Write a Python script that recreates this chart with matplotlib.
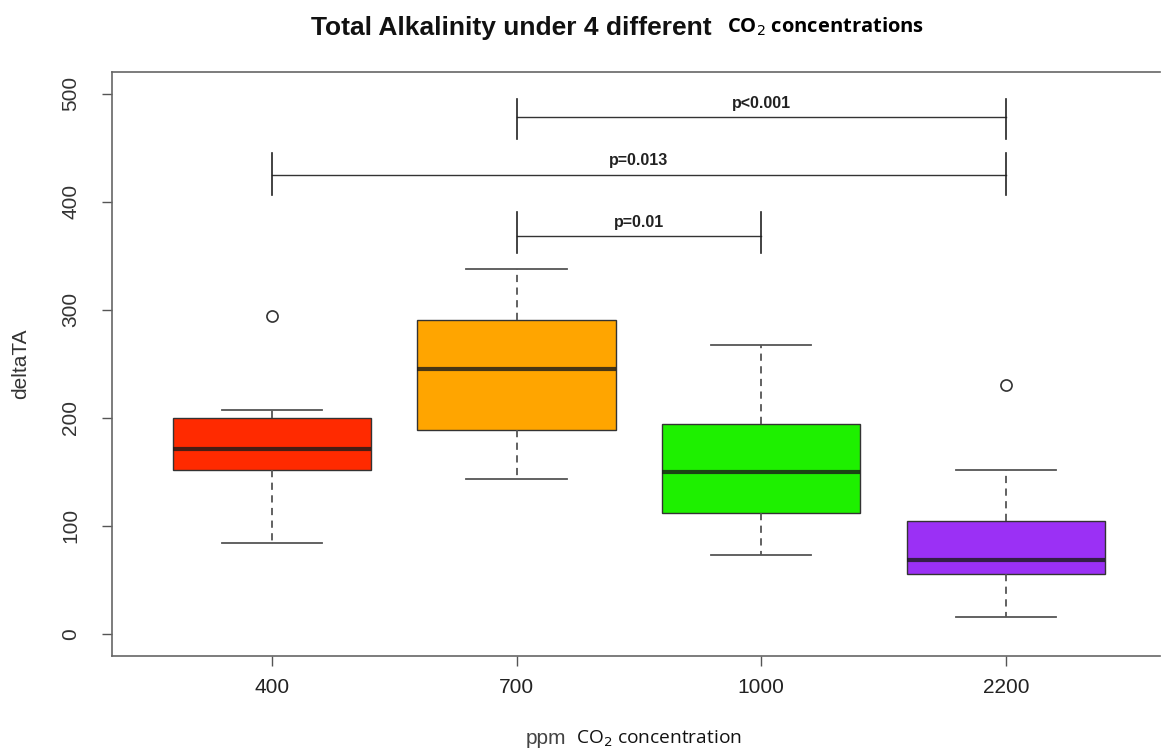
import matplotlib
matplotlib.use('Agg')
import matplotlib.pyplot as plt

# ─────────────────────────────────────────────
# Data
# ─────────────────────────────────────────────
groups   = ['400', '700', '1000', '2200']
whislo   = [84, 143, 73, 16]
q1       = [152, 189, 112, 55]
medians  = [171, 245, 150, 68]
q3       = [200, 290, 194, 104]
whishi   = [207, 338, 267, 152]
outliers = [[294], [], [], [230]]
colors   = ['#FF2A00', '#FFA500', '#1EF000', '#9B30F5']

# significance brackets: (left group, right group, bar y, tick low, tick high, label)
sig_left   = [1, 0, 1]
sig_right  = [3, 3, 2]
sig_y      = [478, 425, 368]
sig_lo     = [458, 406, 352]
sig_hi     = [495, 445, 390]
sig_labels = ['p<0.001', 'p=0.013', 'p=0.01']

plt.rcParams['font.family'] = ['Liberation Sans', 'DejaVu Sans']

fig = plt.figure(figsize=(11.62, 7.49), dpi=100)
ax = fig.add_axes([0.0964, 0.1242, 0.902, 0.7797])

positions = list(range(1, len(groups) + 1))
stats = []
for i in range(len(groups)):
    stats.append({'whislo': whislo[i], 'q1': q1[i], 'med': medians[i],
                  'q3': q3[i], 'whishi': whishi[i], 'fliers': outliers[i]})

bp = ax.bxp(stats, positions=positions, widths=0.81, patch_artist=True,
            boxprops=dict(edgecolor='#333333', linewidth=1.0),
            medianprops=dict(color='#1a1a1a', linewidth=3, alpha=0.8),
            whiskerprops=dict(color='#555555', linewidth=1.3, linestyle=(0, (4, 3))),
            capprops=dict(color='#555555', linewidth=1.3),
            flierprops=dict(marker='o', markerfacecolor='none', markeredgecolor='#333333',
                            markersize=8, markeredgewidth=1.2),
            capwidths=0.41)
for patch, c in zip(bp['boxes'], colors):
    patch.set_facecolor(c)

# significance brackets
for l, r, y, lo, hi, lab in zip(sig_left, sig_right, sig_y, sig_lo, sig_hi, sig_labels):
    xl, xr = positions[l], positions[r]
    ax.plot([xl, xr], [y, y], color='#333333', lw=1.0)
    ax.plot([xl, xl], [lo, hi], color='#222222', lw=1.2)
    ax.plot([xr, xr], [lo, hi], color='#222222', lw=1.2)
    ax.text((xl + xr) / 2, y + 6, lab, ha='center', va='bottom',
            fontsize=11.5, fontweight='bold', color='#222222')

ax.set_xlim(0.347, 4.63)
ax.set_ylim(-20.5, 520)
ax.set_xticks(positions)
ax.set_xticklabels(groups, fontsize=15, color='#222222')
ax.set_yticks([0, 100, 200, 300, 400, 500])
ax.set_yticklabels(['0', '100', '200', '300', '400', '500'], rotation=90,
                   va='center', fontsize=15, color='#333333')
ax.tick_params(axis='both', length=7, color='#555555', width=1.0)
ax.tick_params(axis='x', pad=9)
ax.tick_params(axis='y', pad=16)
ax.spines['right'].set_visible(False)
for s in ['left', 'bottom', 'top']:
    ax.spines[s].set_color('#666666')
    ax.spines[s].set_linewidth(1.2)

ax.set_ylabel('deltaTA', fontsize=15, color='#333333', labelpad=22)

# title and x label (two font styles, as in the reference)
fig.text(0.6125, 0.962, 'Total Alkalinity under 4 different', ha='right', va='center',
         fontsize=19, fontweight='bold', color='#111111')
fig.text(0.626, 0.964, 'CO$_2$ concentrations', ha='left', va='center',
         fontsize=14.5, fontweight='bold', color='#000000', family=['Open Sans', 'DejaVu Sans'])
fig.text(0.487, 0.014, 'ppm', ha='right', va='center', fontsize=15, color='#444444')
fig.text(0.496, 0.014, 'CO$_2$ concentration', ha='left', va='center',
         fontsize=13.8, color='#111111', family=['Open Sans', 'DejaVu Sans'])

fig.savefig('out.png', dpi=100)
